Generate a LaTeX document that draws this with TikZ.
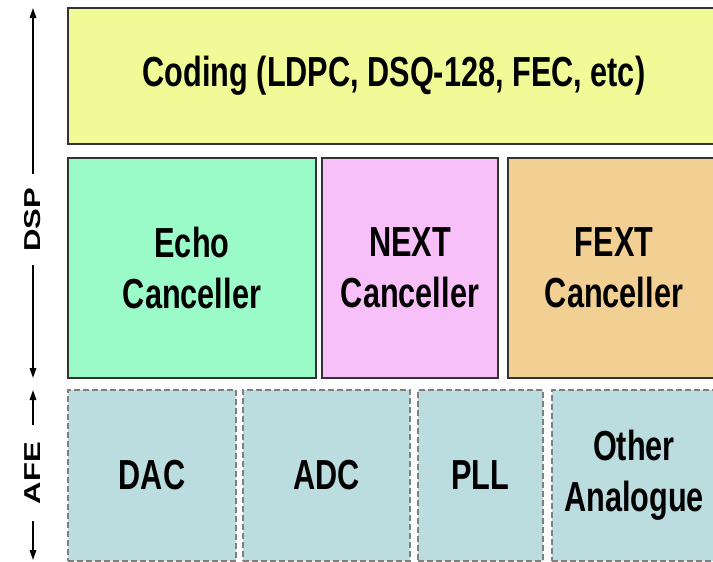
\documentclass[tikz,border=0pt]{standalone}
\usepackage{fontspec}
\usetikzlibrary{arrows.meta}
\newfontfamily\boxfont{Liberation Sans}[FakeStretch=0.73]
\newfontfamily\sidefont{Liberation Sans}[FakeStretch=1.35]
\definecolor{codeyellow}{RGB}{240,250,150}
\definecolor{echogreen}{RGB}{154,250,200}
\definecolor{nextpink}{RGB}{248,192,248}
\definecolor{fextorange}{RGB}{242,208,148}
\definecolor{afeteal}{RGB}{188,221,224}

\begin{document}
\begin{tikzpicture}[x = 1pt, y = -1pt]
\tikzstyle{DspBox}=[draw = black!80, line width = 1.5pt, inner sep = 0pt,
                    align = center,
                    font = \boxfont\bfseries\fontsize{42}{51}\selectfont]
\tikzstyle{AfeBox}=[DspBox, draw = gray, dash pattern = on 6pt off 3pt,
                    fill = afeteal, minimum height = 171pt]
\tikzstyle{SideLabel}=[rotate = 90, inner ysep = 0pt,
                       font = \sidefont\bfseries\fontsize{23}{23}\selectfont]
\tikzstyle{SideArrow}=[line width = 1.5pt, -{Triangle[length = 10pt, width = 6.5pt]}]
\clip (0,0) rectangle (713,562);
\fill[white] (0,0) rectangle (713,562);
\node[DspBox, fill = codeyellow, minimum width = 652pt, minimum height = 136pt] (coding) at (394,76) {Coding (LDPC, DSQ-128, FEC, etc)};
\node[DspBox, fill = echogreen, minimum width = 248pt, minimum height = 220pt] (echo) at (192,268) {Echo\\Canceller};
\node[DspBox, fill = nextpink, minimum width = 176pt, minimum height = 220pt] (next) at (410,268) {NEXT\\Canceller};
\node[DspBox, fill = fextorange, minimum width = 212pt, minimum height = 220pt] (fext) at (614,268) {FEXT\\Canceller};
\node[AfeBox, minimum width = 168pt] (dac) at (152,475.5) {DAC};
\node[AfeBox, minimum width = 167pt] (adc) at (326.5,475.5) {ADC};
\node[AfeBox, minimum width = 125pt] (pll) at (480.5,475.5) {PLL};
\node[AfeBox, minimum width = 164pt] (other) at (634,475.5) {Other\\Analogue};
\coordinate (dsptop) at (33,8);
\coordinate (dspbot) at (33,378);
\coordinate (afetop) at (33,390);
\coordinate (afebot) at (33,560);
\node[SideLabel, inner xsep = 13pt] (dsp) at (33,219.5) {DSP};
\node[SideLabel, inner xsep = 17pt] (afe) at (33,473) {AFE};
\draw[SideArrow] (dsp) -- (dsptop);
\draw[SideArrow] (dsp) -- (dspbot);
\draw[SideArrow] (afe) -- (afetop);
\draw[SideArrow] (afe) -- (afebot);
\end{tikzpicture}
\end{document}
